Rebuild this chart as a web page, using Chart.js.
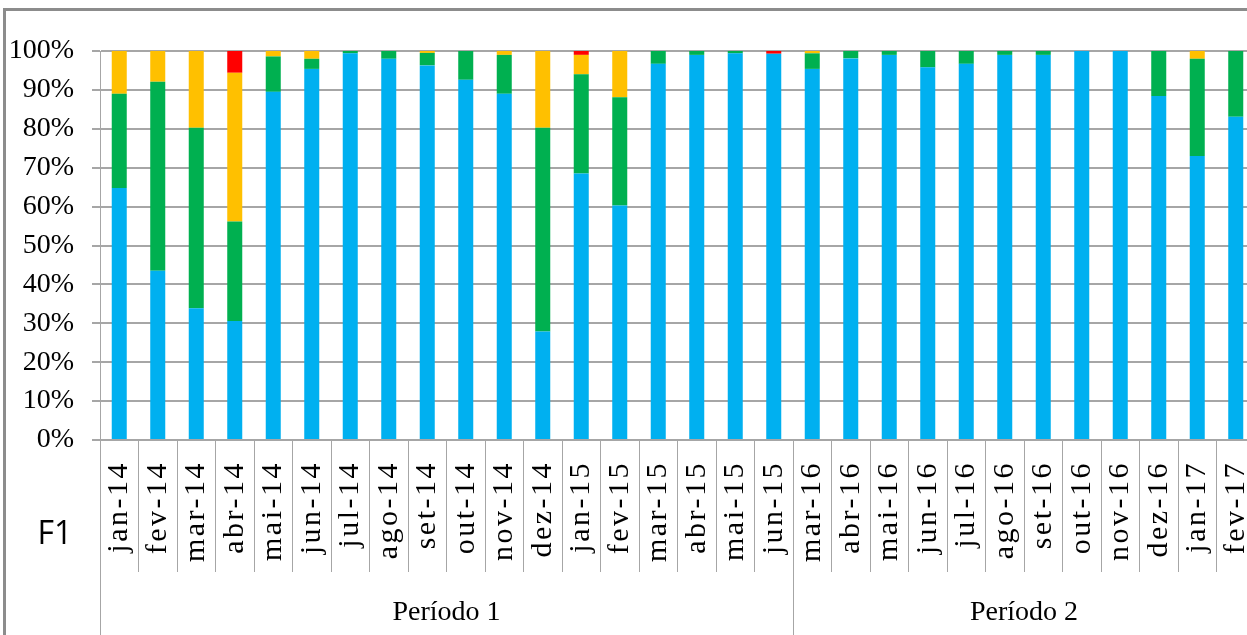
<!DOCTYPE html>
<html>
<head>
<meta charset="utf-8">
<script src="https://cdn.jsdelivr.net/npm/chart.js@4.4.1/dist/chart.umd.min.js"></script>
<style>
  body { margin: 0; overflow: hidden; background: #fff; }
  #frame { position: absolute; left: 3px; top: 8px; width: 1300px; height: 700px;
           border-top: 3px solid #8c8c8c; border-left: 3px solid #8c8c8c; }
  #chart { position: absolute; left: 0; top: 0; }
</style>
</head>
<body>
<div id="frame"></div>
<canvas id="chart" width="1260" height="635"></canvas>
<script>
// months of each period
const period1 = ['jan-14', 'fev-14', 'mar-14', 'abr-14', 'mai-14', 'jun-14', 'jul-14', 'ago-14', 'set-14',
  'out-14', 'nov-14', 'dez-14', 'jan-15', 'fev-15', 'mar-15', 'abr-15', 'mai-15', 'jun-15'];
const period2 = ['mar-16', 'abr-16', 'mai-16', 'jun-16', 'jul-16', 'ago-16', 'set-16', 'out-16', 'nov-16',
  'dez-16', 'jan-17', 'fev-17'];
const periodNames = ['Período 1', 'Período 2'];

// percentage shares (stacked to 100%)
const blue = [64.8, 43.5, 33.9, 30.6, 89.5, 95.4, 99.4, 98.0, 96.3, 92.6, 89.0, 27.9, 68.5, 60.3, 96.7, 99.0, 99.4, 99.3,
  95.4, 98.1, 99.0, 95.8, 96.7, 99.0, 99.0, 100, 100, 88.4, 73.0, 83.1];
const green = [24.2, 48.6, 46.4, 25.6, 9.1, 2.6, 0.6, 2.0, 3.2, 7.4, 10.0, 52.4, 25.5, 27.8, 3.3, 1.0, 0.6, 0,
  4.0, 1.9, 1.0, 4.2, 3.3, 1.0, 1.0, 0, 0, 11.6, 25.0, 16.9];
const yellow = [11.0, 7.9, 19.7, 38.2, 1.4, 2.0, 0, 0, 0.5, 0, 1.0, 19.7, 5.0, 11.9, 0, 0, 0, 0,
  0.6, 0, 0, 0, 0, 0, 0, 0, 0, 0, 2.0, 0];
const red = [0, 0, 0, 5.6, 0, 0, 0, 0, 0, 0, 0, 0, 1.0, 0, 0, 0, 0, 0.7,
  0, 0, 0, 0, 0, 0, 0, 0, 0, 0, 0, 0];

const yTicks = [0, 10, 20, 30, 40, 50, 60, 70, 80, 90, 100];

const months = period1.concat(period2);
const gridGray = '#a6a6a6';

// group row under the month labels + the F1 tag
const groupRow = {
  id: 'groupRow',
  beforeDatasetsDraw(chart) {
    chart.ctx.letterSpacing = '2.5px'; // month labels are drawn after datasets (ticks z: 1)
  },
  afterDraw(chart) {
    const ctx = chart.ctx;
    const x = chart.scales.x;
    const area = chart.chartArea;
    ctx.letterSpacing = '0px';
    ctx.save();
    const split = (x.getPixelForValue(period1.length - 1) + x.getPixelForValue(period1.length)) / 2;
    ctx.strokeStyle = gridGray;
    ctx.lineWidth = 1;
    [area.left, split].forEach(px => {
      ctx.beginPath();
      ctx.moveTo(Math.round(px) + 0.5, area.bottom);
      ctx.lineTo(Math.round(px) + 0.5, chart.height);
      ctx.stroke();
    });
    ctx.fillStyle = '#000';
    ctx.textAlign = 'center';
    ctx.textBaseline = 'middle';
    ctx.font = '28px "Liberation Serif"';
    ctx.fillText(periodNames[0], (area.left + split) / 2, 613);
    ctx.fillText(periodNames[1], (split + area.right) / 2, 613);
    ctx.font = '32px "Open Sans"';
    ctx.fillText('F1', 55, 535);
    ctx.restore();
  }
};

function ds(label, data, color) {
  return { label: label, data: data, backgroundColor: color, barPercentage: 0.39, categoryPercentage: 1 };
}

new Chart(document.getElementById('chart'), {
  type: 'bar',
  data: {
    labels: months,
    datasets: [
      ds('blue', blue, '#00b0f0'),
      ds('green', green, '#00b050'),
      ds('yellow', yellow, '#ffc000'),
      ds('red', red, '#ff0000')
    ]
  },
  options: {
    responsive: false,
    animation: false,
    devicePixelRatio: 1,
    layout: { padding: { top: 51, right: 5, left: 0, bottom: 0 } },
    plugins: { legend: { display: false }, tooltip: { enabled: false } },
    scales: {
      x: {
        stacked: true,
        afterFit: s => { s.height = 195; },
        grid: { offset: true, drawOnChartArea: false, tickLength: 132, color: gridGray, lineWidth: 1 },
        border: { color: gridGray, width: 2 },
        ticks: {
          z: 1, autoSkip: false, minRotation: 90, maxRotation: 90, padding: -111,
          color: '#000', font: { family: 'Liberation Serif', size: 30 }
        }
      },
      y: {
        stacked: true,
        min: 0, max: 100,
        afterFit: s => { s.width = 100; },
        afterBuildTicks: s => { s.ticks = yTicks.map(v => ({ value: v })); },
        grid: { color: gridGray, lineWidth: 2, tickLength: 8 },
        border: { color: gridGray, width: 1 },
        ticks: {
          padding: 18, color: '#000', font: { family: 'Liberation Serif', size: 28 },
          callback: v => v + '%'
        }
      }
    }
  },
  plugins: [groupRow]
});
</script>
</body>
</html>
